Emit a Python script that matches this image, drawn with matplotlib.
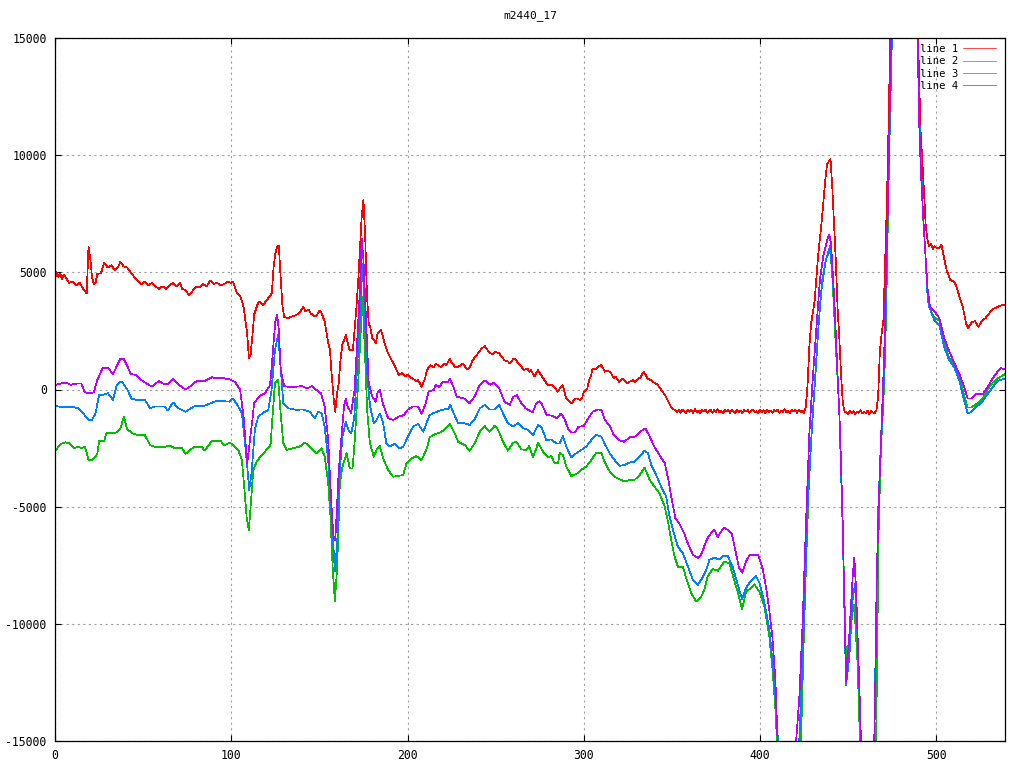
import matplotlib
matplotlib.use("Agg")
import matplotlib.pyplot as plt

title = "m2440_17"
series_labels = ["line 1", "line 2", "line 3", "line 4"]
series_colors = ["#ff0000", "#00c000", "#0080ff", "#c000ff"]
x_ticks = [0, 100, 200, 300, 400, 500]
y_ticks = [-15000, -10000, -5000, 0, 5000, 10000, 15000]

# ---- line 1 (red) ----
line1_a = [(0,4750),(1,5000),(2,4800),(3,4950),(4,4700),(5,4900),(6,4800),(8,4550),(10,4600),(12,4450),
           (14,4550),(16,4300),(18,4100),(19,6100),(20,5600),(21,4800),(22,4500),(23,4550),(24,4940),(26,4950),
           (28,5410),(30,5200),(32,5300),(34,5100),(36,5250),(37,5450),(39,5250),(41,5200),(43,5000),(45,4800),
           (47,4650),(49,4500),(51,4600),(53,4450),(55,4550),(57,4400),(59,4300),(61,4400),(63,4300),(65,4450),
           (67,4550),(69,4400),(71,4550),(72,4300),(74,4250),(76,4030),(78,4200),(80,4400),(82,4350),(84,4500),
           (86,4400),(88,4650),(90,4500),(92,4550),(94,4450),(96,4500),(98,4600),(100,4550),(101,4600),(103,4150),
           (105,4000),(107,3530),(109,2400),(110,1340),(111,1500),(112,2300),(113,3200),(115,3650),(116,3750),(118,3600),
           (120,3800),(121,3900),(123,4100),(124,5200),(125,5800),(126,6100),(127,6150),(128,4800),(129,3600),(130,3100),
           (132,3040),(134,3100),(137,3180),(139,3300),(141,3530),(142,3350),(144,3400),(145,3250),(147,3150),(148,3110),
           (150,3350),(151,3320),(153,2890),(155,2000),(156,1690),(157,600),(158,-300),(159,-950),(160,-200),(161,300),
           (162,1300),(163,1900),(165,2330),(167,1690),(169,1690),(170,2600),(171,3500),(172,4600),(173,6000),(174,7370),
           (175,8090),(176,6500),(177,4000),(178,2830),(179,2610),(180,2200),(181,2110),(182,1970),(183,2400),(185,2540),
           (187,1970),(189,1540),(191,1250),(193,970),(195,620),(197,700),(199,550),(200,620),(202,500),(203,470),
           (205,350),(206,400),(208,120),(210,470),(211,830),(213,1040),(215,950),(216,1110),(218,1000),(219,970),
           (221,1100),(222,1040),(224,1320),(225,1150),(227,970),(229,970),(231,1100),(232,1040),(234,850),(235,900),
           (237,1250),(240,1540),(242,1750),(244,1850),(246,1610),(248,1500),(250,1610),(252,1540),(254,1350),(255,1250),
           (257,1200),(258,1110),(260,1300),(261,1320),(263,1100),(264,1040),(266,830),(268,900),(269,760),(270,830),
           (272,550),(274,830),(275,700),(277,480),(279,250),(280,190),(282,190),(284,50),(285,-100),(287,100),
           (288,190),(290,-380),(292,-500),(293,-600),(295,-400),(296,-380),(298,-450),(299,-380),(300,-100),(302,40),
           (303,400),(304,550),(305,900),(307,850),(308,970),(310,1040),(312,760),(313,800),(315,760),(317,480),
           (318,550),(320,330),(322,450),(323,400),(325,250),(326,330),(328,400),(329,330),(331,480),(332,500),
           (334,760),(335,650),(336,480),(338,400),(339,330),(341,250),(342,190),(344,-20),(346,-230),(348,-520),
           (350,-810),(352,-880)]
line1_flat1_start = 353
line1_flat1 = [-960,-850,-990,-870,-930,-1010,-860,-950,-880,-1000,
               -840,-960,-900,-1010,-870,-940,-850,-990,-910,-860,
               -1000,-880,-950,-840,-980,-900,-1020,-870,-930,-860,
               -990,-880,-950,-1000,-850,-960,-890,-1010,-860,-940,
               -870,-990,-900,-850,-980,-920,-1000,-860,-950,-880,
               -1010,-850,-960,-900,-990,-870,-940,-860,-1000,-890,
               -950,-840,-980,-910,-1000,-860,-940,-880,-990,-850,
               -960,-900,-1000]
line1_b = [(426,-730),(427,240),(428,1850),(429,2820),(431,3790),(433,5730),(435,7180),(437,8900),(438,9600),
           (440,9840),(441,8630),(442,7020),(443,5500),(444,3500),(445,2200),(446,600),(447,-600),(448,-950)]
line1_flat2_start = 449
line1_flat2 = [-950,-1050,-900,-1000,-920,-1060,-940,-990,-880,-1030,-960,-1000,-900,-1050,-930,-980,-1010,-900]
line1_c = [(467,-300),(468,1620),(469,2380),(470,2950),(471,5500),(472,8000),(473,11500),(474,15500),(476,20000),
           (480,24000),(484,24000),(488,20000),(490,14000),(491,11180),(493,8500),(494,7000),(495,6400),(496,6110),
           (497,6200),(498,6000),(499,6110),(500,6050),(501,6010),(503,6170),(505,5400),(506,5060),(508,4670),
           (510,4600),(511,4480),(513,4010),(515,3530),(517,2800),(518,2610),(520,2860),(522,2920),(524,2670),
           (526,2950),(528,3050),(529,3150),(532,3430),(535,3530),(538,3620),(539,3600)]

# ---- line 2 (green) ----
line2_pts = [(0,-2610),(2,-2450),(4,-2300),(6,-2250),(8,-2300),(11,-2500),(13,-2450),(15,-2500),(17,-2440),(19,-3000),
             (21,-3000),(22,-2950),(24,-2750),(25,-2200),(28,-2200),(29,-1870),(34,-1870),(37,-1700),(39,-1160),(41,-1700),
             (44,-1870),(47,-1950),(51,-1950),(54,-2380),(57,-2450),(62,-2450),(65,-2400),(68,-2500),(72,-2500),(74,-2750),
             (79,-2440),(83,-2440),(85,-2600),(89,-2200),(94,-2200),(96,-2380),(99,-2270),(101,-2360),(104,-2580),(106,-3010),
             (107.2,-4000),(108.7,-5430),(110,-6000),(111,-5000),(112.5,-3440),(114.4,-3080),(117.2,-2800),(120,-2580),
             (122.3,-2360),(123.4,-1160),(124.8,260),(126.6,430),(128,-1000),(129.5,-2290),(131.4,-2580),(135.2,-2500),
             (139,-2430),(141.8,-2270),(144.6,-2430),(148.4,-2720),(151.2,-2500),(153,-2860),(155,-4000),(156.3,-5430),
             (157.5,-7560),(158.8,-9050),(160.1,-7560),(161.6,-4000),(163.1,-3300),(165.4,-2720),(167.3,-3370),(168.8,-3370),
             (170.1,-2150),(172,260),(173.3,2250),(174.5,3960),(175.8,1690),(177.1,-870),(178.6,-2260),(180.9,-2870),
             (182.4,-2580),(184.3,-2420),(186.2,-2940),(189,-3430),(191.8,-3720),(194.7,-3690),(197.5,-3650),(199.4,-3150),
             (202.2,-2940),(205,-2840),(207.9,-3010),(210.7,-2580),(212.6,-2040),(215.5,-1910),(218.3,-1840),(221.1,-1720),
             (224,-1470),(226.8,-1870),(228.7,-2230),(232.5,-2370),(235.3,-2610),(238.1,-2300),(241,-1800),(243.8,-1560),
             (246.6,-1800),(249.5,-1540),(251.4,-1720),(254.2,-2230),(257,-2610),(259.9,-2270),(261.8,-2230),(264.6,-2560),
             (267.4,-2580),(269,-2420),(271.2,-2870),(273.1,-2510),(274,-2270),(276.9,-2650),(279.7,-2890),(281.6,-2840),
             (283.5,-3150),(285.4,-3150),(286.3,-2700),(288.2,-2800),(290.1,-3290),(292.9,-3690),(295.8,-3610),(298.6,-3430),
             (301.4,-3290),(304.3,-3010),(307.1,-2700),(310,-2720),(311.8,-3080),(314.7,-3500),(317.5,-3720),(320.3,-3830),
             (323.2,-3930),(326,-3860),(328.8,-3860),(331.7,-3650),(334.5,-3330),(337.4,-3860),(340.2,-4150),(343,-4430),
             (345.9,-5000),(347.8,-5640),(349.6,-6420),(351.5,-7130),(353.4,-7560),(356.3,-7560),(358.1,-8060),(361,-8700),
             (363.8,-9050),(366.7,-8840),(368.4,-8550),(370.3,-7980),(373.1,-7660),(376,-7740),(379.8,-7340),(382.6,-7420),
             (385.4,-8150),(387.9,-8790),(389.8,-9360),(392.1,-8630),(394.9,-8470),(396.8,-8310),(399.6,-8630),(402.5,-9270),
             (405.3,-10560),(407.2,-12020),(408.7,-13630),(410,-15500),(414,-20000),(420,-20000),(423.3,-14900),
             (424.6,-11210),(426.1,-7500),(427.6,-4270),(429.5,-1530),(431.4,560),(433.3,2820),(435.2,4600),(437.4,5560),
             (439.9,5970),(441.2,4600),(443.1,1690),(445,-890),(446.9,-5890),(448.8,-11580),(450.7,-10620),(452.6,-9470),
             (453.5,-9200),(455.4,-11770),(456.9,-15500),(460,-20000),(463,-20000),(465.8,-15500),(467.3,-6030),
             (468.6,-2500),(470,-500),(471,1500),(472,5000),(473,9000),(474.5,14000),(476,18000),(480,22000),(485,22000),
             (489.4,15000),(490.4,11500),(491.3,9800),(492.3,7700),(493.8,5800),(495.1,3900),(496,3530),(498.9,3050),
             (501.7,2950),(504.5,2000),(507.4,1330),(510.2,1140),(513.1,570),(515.9,-300),(517.8,-770),(519.7,-770),
             (522.5,-640),(526.3,-390),(529.1,0),(531.9,280),(534.8,470),(539,660)]

# ---- line 3 (blue) ----
line3_pts = [(0,-690),(4,-760),(8,-760),(11,-760),(13,-800),(16,-1020),(19,-1300),(21,-1300),(23,-1020),(25,-230),
             (27,-230),(30,-160),(33,-450),(35,200),(37,330),(38,330),(41,0),(43.5,-400),(47,-450),(51,-450),
             (54,-800),(57,-720),(62,-720),(64,-900),(67,-550),(70,-800),(74,-950),(79,-720),(85,-690),(91,-500),
             (96,-500),(99,-520),(101,-380),(104,-730),(106,-1000),(107.8,-2290),(109.1,-3300),(110.2,-4290),(111.5,-3580),
             (113.4,-1720),(115.3,-1160),(118,-1000),(121,-870),(122.9,0),(124.8,1690),(126.6,2330),(128,970),(129.5,-580),
             (132.3,-800),(137,-870),(140.8,-850),(144.6,-950),(147.4,-1230),(149.3,-950),(151.2,-1000),(153,-1580),
             (155,-3010),(156.3,-4570),(157.5,-6140),(158.8,-7770),(160.1,-6560),(161.6,-3440),(163.1,-2000),(165,-1370),
             (166.9,-1800),(168.2,-1860),(169.8,-1160),(171,400),(173,3110),(174.3,5380),(175.4,4100),(176.7,1110),
             (178.3,-400),(179,-800),(180.9,-1440),(182.4,-1300),(184.3,-1020),(186.2,-1440),(188,-2300),(190,-2440),
             (192.8,-2300),(195.6,-2510),(197.5,-2440),(200.3,-2010),(203.2,-1580),(206,-1470),(209,-1800),(210.7,-1440),
             (212.6,-1090),(215.5,-980),(218.3,-900),(221.1,-840),(223,-850),(224.3,-660),(226.2,-1020),(228.7,-1440),
             (231.5,-1420),(235.3,-1510),(238.1,-1270),(241,-800),(243.8,-660),(246.6,-850),(249.5,-850),(252,-660),
             (254.2,-1020),(257,-1440),(259.9,-1580),(262.7,-1440),(265.6,-1650),(268.4,-1720),(271.2,-1960),(273.1,-1650),
             (274,-1520),(275.9,-1590),(278.8,-2160),(281.6,-2130),(284.4,-2300),(286.3,-2300),(288.2,-1980),(290.1,-2440),
             (292.9,-2890),(295.8,-2720),(298.6,-2580),(301.4,-2440),(304.3,-2160),(307.1,-1940),(310,-2010),(311.8,-2300),
             (314.7,-2720),(317.5,-3010),(320.3,-3260),(323.2,-3220),(326,-3120),(328.8,-3080),(331.7,-2860),(334.5,-2610),
             (336.4,-2720),(338.3,-3220),(341.1,-3650),(343.9,-4150),(346.8,-4570),(348.7,-5430),(350.6,-6000),(353.4,-6710),
             (356.3,-6990),(359.1,-7560),(361.9,-8130),(364.8,-8340),(367.6,-8000),(369.5,-7700),(371.3,-7260),(374.1,-7180),
             (377,-7260),(378.8,-7100),(381.7,-7100),(384.5,-7580),(387.3,-8310),(389.8,-8950),(392.1,-8470),(394.9,-8150),
             (397.7,-7950),(399.6,-8230),(402.5,-9110),(405.3,-10240),(407.6,-12020),(409.1,-13470),(410.5,-15500),
             (414,-20000),(419,-20000),(422.3,-14920),(424.2,-11530),(425.7,-8310),(427,-5080),(428.9,-2340),(430.8,-80),
             (432.7,2180),(434.6,4110),(437,5400),(439.7,6130),(441.2,4920),(443.1,2180),(445,-1050),(446.9,-5890),
             (447.8,-9110),(448.8,-12630),(450.7,-11390),(452.6,-8900),(453.9,-8300),(455.4,-10620),(456.7,-13680),
             (457.5,-15500),(460,-20000),(463,-20000),(464.8,-15500),(465.8,-9860),(467.1,-5080),(468.6,-2210),(469.6,-870),
             (470.9,1620),(471.8,5060),(473,9260),(474.3,13470),(475,15500),(478,22000),(485,22000),(489.4,15000),
             (490.4,11560),(491.3,9840),(492.3,7730),(493.8,5820),(495.1,3910),(496,3530),(498.9,2950),(501.7,2760),
             (504.5,1810),(507.4,1240),(510.2,950),(513.1,370),(515.9,-490),(517.8,-1020),(519.7,-970),(522.5,-770),
             (526.3,-490),(529.1,-200),(531.9,90),(534.8,370),(539,470)]

# ---- line 4 (purple) ----
line4_pts = [(0,190),(3,250),(6,300),(9,200),(12,250),(15,250),(17,-130),(20,-150),(22,-130),(24,400),
             (27,917),(30,917),(33,660),(35,1000),(37,1300),(39,1300),(41,1000),(43,660),(46,620),(49,400),
             (52,250),(55,130),(57,250),(59,360),(62,220),(64,230),(67,450),(70,220),(72,100),(74,0),
             (77,150),(79,300),(81,360),(85,360),(87,450),(89,520),(92,480),(95,490),(99,435),(102,330),
             (105,0),(107,-1160),(108,-2150),(109,-3150),(110,-2580),(111,-1900),(112,-1300),(113,-580),(116,-280),(119,-170),
             (122,190),(123,1000),(124,2000),(125,2900),(126,3180),(127,2540),(128,830),(130,150),(132,120),(137,120),
             (140,150),(143,50),(146,150),(148,0),(151,-170),(153,-730),(155,-2150),(156,-3720),(157,-5140),(158,-6280),
             (159,-6420),(160,-5000),(161,-3440),(163,-1580),(164,-700),(165,-380),(166,-730),(168,-1000),(170,0),(171,1400),
             (173,4250),(174,6450),(175,5530),(177,2000),(178,260),(180,-300),(182,-520),(183,-150),(184.3,-20),(186,-600),
             (189,-1230),(192,-1300),(195,-1160),(198,-1090),(200,-870),(203,-730),(206,-730),(208,-1040),(210,-660),(212,-90),
             (215,-20),(216,200),(218,100),(220,330),(223,330),(224,470),(226,120),(228,-310),(232,-380),(235,-600),
             (238,-310),(241,200),(244,380),(247,200),(249,300),(252,50),(255,-520),(258,-660),(260,-310),(262,-240),
             (264,-520),(267,-800),(271,-980),(273,-600),(275,-500),(276,-600),(279,-1090),(282,-1120),(285,-1230),(287,-1020),
             (289,-1230),(291,-1660),(293,-1830),(295,-1830),(297,-1590),(300,-1560),(302,-1300),(305,-950),(308,-850),(310,-870),
             (312,-1300),(315,-1590),(317,-1940),(320,-2160),(323,-2230),(326,-2040),(329,-2010),(332,-1800),(335,-1660),(337,-1940),
             (340,-2440),(343,-2800),(346,-3150),(348,-3860),(350,-4720),(352,-5500),(354,-5690),(357,-6140),(359,-6560),(362,-7060),
             (365,-7200),(367,-6990),(369,-6550),(371,-6250),(374,-5970),(376,-6290),(378,-6050),(380,-5890),(384,-6150),(385.5,-6690),
             (388,-7580),(390,-7820),(392,-7340),(394,-7070),(399,-7070),(401.5,-7660),(403.5,-8470),(405.3,-9440),(407,-10560),
             (408.7,-12340),(410,-15100),(413,-20000),(418,-20000),(420,-15500),(422.3,-13150),(424.2,-9920),(426,-5890),
             (428,-1850),(430,560),(432,2660),(434,4700),(436,5730),(438.4,6450),(439.3,6610),(440.3,6210),(442.2,3790),
             (444,560),(445.4,-1690),(447,-5890),(448,-9920),(449,-12500),(450.7,-10430),(452.6,-7940),(453.5,-7180),
             (454.5,-8520),(455.4,-10620),(456.3,-12530),(457.3,-15020),(460,-20000),(463,-20000),(464.8,-15000),
             (465.4,-12720),(466.2,-7940),(467.7,-4120),(468.6,-2210),(469.6,-300),(470.5,1620),(471.5,5060),(472.4,7350),
             (473.4,11180),(474.3,15000),(476,20000),(480,24000),(485,24000),(489.4,15000),(490.4,11180),(491.3,9260),
             (492.6,7350),(493.8,5820),(495.1,4290),(496.4,3530),(498.9,3340),(501.7,3050),(504.5,2190),(507.4,1620),
             (510.2,1140),(513.1,660),(515.9,90),(517.8,-390),(519.7,-390),(522.5,-200),(526.3,-200),(529.1,90),
             (531.9,470),(534.8,760),(536.7,910),(539,850)]


def unzip(pts):
    return [p[0] for p in pts], [p[1] for p in pts]


l1 = (line1_a
      + [(line1_flat1_start + i, v) for i, v in enumerate(line1_flat1)]
      + line1_b
      + [(line1_flat2_start + i, v) for i, v in enumerate(line1_flat2)]
      + line1_c)
series = [l1, line2_pts, line3_pts, line4_pts]

plt.rcParams['font.family'] = ['DejaVu Sans Mono', 'DejaVu Sans']
fig = plt.figure(figsize=(10.24, 7.68), dpi=100)
ax = fig.add_axes([55/1024, 27/768, 950/1024, 703/768])

for pts, col, lab in zip(series, series_colors, series_labels):
    xs, ys = unzip(pts)
    ax.plot(xs, ys, color=col, lw=0.5, label=lab, antialiased=False)

ax.set_xlim(0, 539)
ax.set_ylim(-15000, 15000)
ax.set_xticks(x_ticks)
ax.set_yticks(y_ticks)
ax.set_xticklabels([str(t) for t in x_ticks])
ax.set_yticklabels([str(t) for t in y_ticks])
ax.tick_params(direction='in', length=4.5, width=0.8, top=True, right=True,
               labelsize=8.3, pad=6, colors='black')
ax.grid(True, color='#a0a0a0', linestyle=(0, (2, 3)), linewidth=0.8)
for s in ax.spines.values():
    s.set_linewidth(0.9)
    s.set_color('black')

ax.set_title(title, fontsize=8, pad=14)

leg = ax.legend(loc='upper right', bbox_to_anchor=(996/1024, (768-44)/768),
                bbox_transform=fig.transFigure, frameon=False, markerfirst=False,
                fontsize=7.6, handlelength=3.1, handletextpad=0.5, labelspacing=0.22,
                borderpad=0, borderaxespad=0)

fig.savefig("out.png", dpi=100)
